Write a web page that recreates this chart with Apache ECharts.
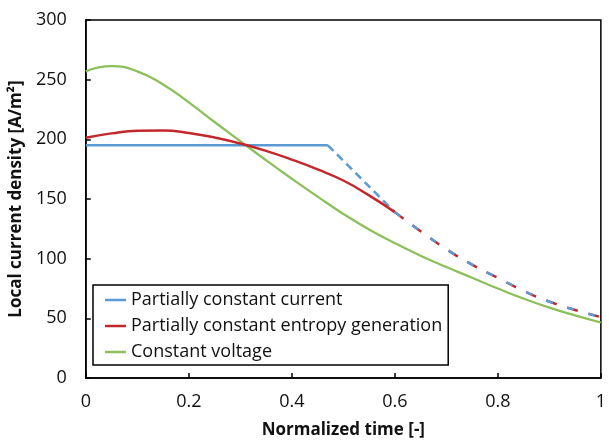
<!DOCTYPE html>
<html><head><meta charset="utf-8">
<script src="https://cdn.jsdelivr.net/npm/echarts@6/dist/echarts.min.js"></script>
<style>html,body{margin:0;padding:0;background:#fff}#c{width:609px;height:444px}</style>
</head><body><div id="c"></div>
<script>
var seriesNames = ['Partially constant current','Partially constant entropy generation','Constant voltage'];
// Partially constant current (blue)
var blueSolidT = [0, 0.47];
var blueSolidV = [195, 195];
var blueDropT = [0.47, 0.6];
var blueDropV = [195, 139];
var blueTailT = [0.6, 0.65, 0.7, 0.75, 0.8, 0.85, 0.9, 0.95, 1.0];
var blueTailV = [139, 123, 108, 95, 84, 73, 64, 57, 51];
// Partially constant entropy generation (red)
var redSolidT = [0, 0.05, 0.1, 0.15, 0.2, 0.25, 0.3, 0.35, 0.4, 0.45, 0.5, 0.55, 0.6];
var redSolidV = [201.4, 205, 207.2, 207.4, 205.3, 201.5, 196.5, 190.3, 183, 174.8, 165.5, 153, 139];
var redDashT = [0.6, 0.65, 0.7, 0.75, 0.8, 0.85, 0.9, 0.95, 1.0];
var redDashV = [139, 123, 108, 95, 84, 73, 64, 57, 51];
// Constant voltage (green)
var greenT = [0, 0.05, 0.1, 0.15, 0.2, 0.25, 0.3, 0.35, 0.4, 0.45, 0.5, 0.55, 0.6, 0.65, 0.7, 0.75, 0.8, 0.85, 0.9, 0.95, 1.0];
var greenV = [257, 261.3, 257, 246, 231, 214.5, 198.5, 182.5, 167, 152, 137.5, 124.5, 113, 102.5, 93, 84, 75, 66.5, 59, 52.5, 46.5];

function pairs(t, v){ return t.map(function(x,i){return [x, v[i]];}); }
var BLUE = '#5b9bd5', RED = '#c3282d', GREEN = '#8cc05a';
var FONT = 'Open Sans';
var chart = echarts.init(document.getElementById('c'), null, {renderer:'canvas'});
chart.setOption({
  animation: false,
  backgroundColor: '#fff',
  textStyle: {fontFamily: FONT},
  grid: {left: 82, right: 4, top: 20, bottom: 64, show: true, borderColor: '#000', borderWidth: 1.5, backgroundColor: 'transparent'},
  legend: {
    data: seriesNames,
    orient: 'vertical', left: 93, top: 285,
    borderColor: '#000', borderWidth: 1.5, backgroundColor: '#fff',
    padding: [6, 6, 4, 12], itemGap: 8,
    itemWidth: 21, itemHeight: 2.5, icon: 'rect',
    textStyle: {fontFamily: FONT, fontSize: 18, color: '#111'}
  },
  xAxis: {
    type: 'value', min: 0, max: 1, interval: 0.2,
    name: 'Normalized time [-]', nameLocation: 'middle', nameGap: 44,
    nameTextStyle: {fontFamily: FONT, fontSize: 17, fontWeight: 'bold', color: '#111'},
    axisLine: {lineStyle: {color: '#000', width: 1.5}},
    axisTick: {inside: true, length: 5, lineStyle: {color: '#000', width: 1.5}},
    axisLabel: {fontSize: 18, color: '#111', margin: 15, fontFamily: FONT},
    splitLine: {show: false}
  },
  yAxis: {
    type: 'value', min: 0, max: 300, interval: 50,
    name: 'Local current density [A/m²]', nameLocation: 'middle', nameGap: 48,
    nameTextStyle: {fontFamily: FONT, fontSize: 17, fontWeight: 'bold', color: '#111'},
    axisLine: {show: true, lineStyle: {color: '#000', width: 1.5}},
    axisTick: {show: true, inside: true, length: 5, lineStyle: {color: '#000', width: 1.5}},
    axisLabel: {fontSize: 18, color: '#111', margin: 19, fontFamily: FONT},
    splitLine: {show: false}
  },
  series: [
    {name: seriesNames[2], type: 'line', data: pairs(greenT, greenV), smooth: true, symbol: 'none', lineStyle: {color: GREEN, width: 2.3}, itemStyle: {color: GREEN}},
    {name: seriesNames[0], type: 'line', data: pairs(blueSolidT, blueSolidV), symbol: 'none', lineStyle: {color: BLUE, width: 2.5}, itemStyle: {color: BLUE}},
    {name: 'blue-drop', type: 'line', data: pairs(blueDropT, blueDropV), symbol: 'none', lineStyle: {color: BLUE, width: 2.5, type: [8, 5]}},
    {name: seriesNames[1], type: 'line', data: pairs(redSolidT, redSolidV), smooth: true, symbol: 'none', lineStyle: {color: RED, width: 2.5}, itemStyle: {color: RED}},
    {name: 'red-dash', type: 'line', data: pairs(redDashT, redDashV), smooth: true, symbol: 'none', lineStyle: {color: RED, width: 2.5, type: [11, 11]}},
    {name: 'blue-tail', type: 'line', data: pairs(blueTailT, blueTailV), smooth: true, symbol: 'none', lineStyle: {color: BLUE, width: 2.5, type: [7, 15]}}
  ]
});
</script></body></html>
